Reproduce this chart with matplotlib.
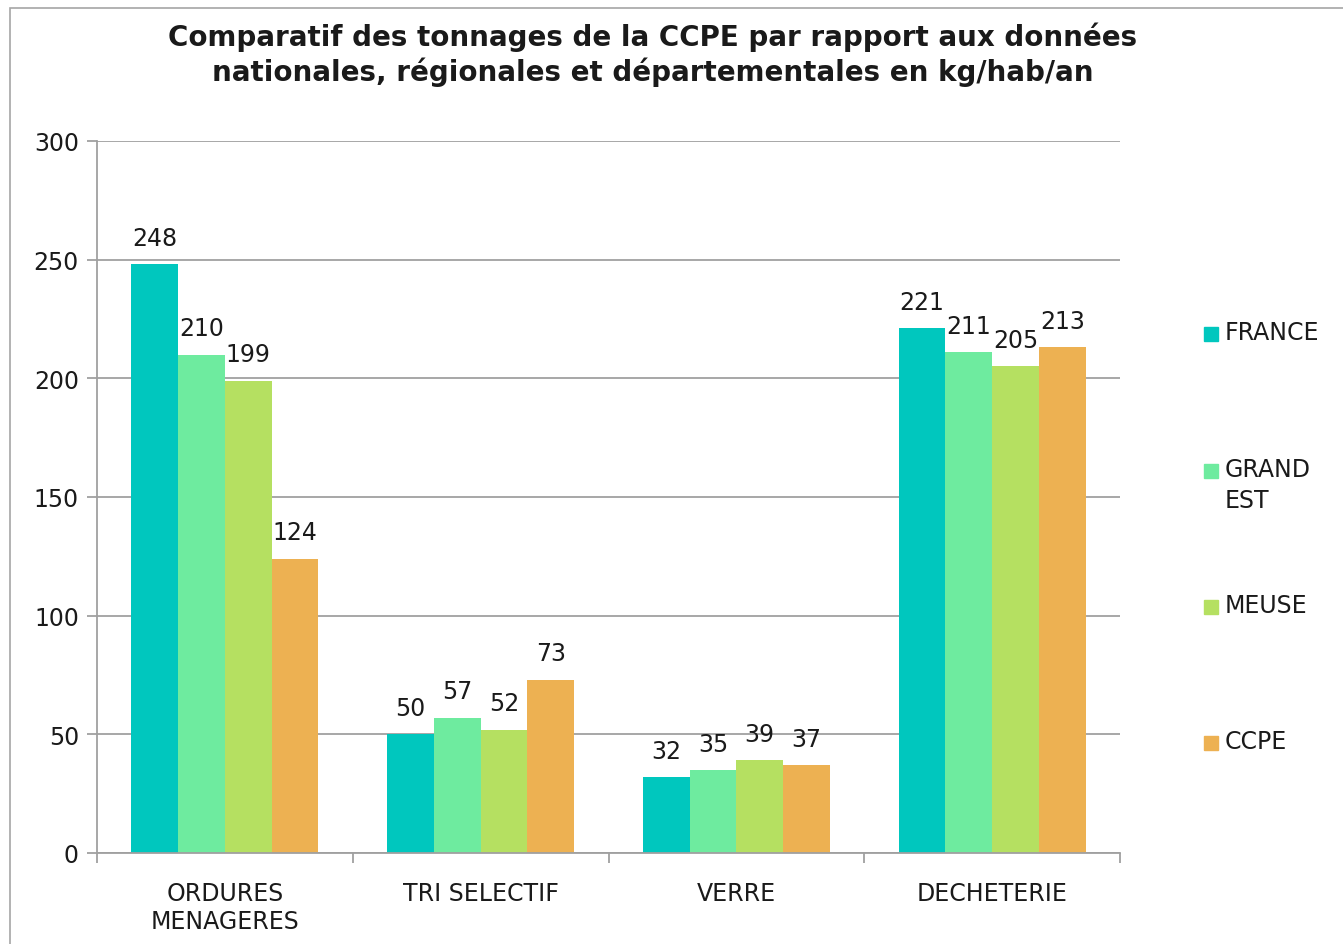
import numpy as np
import matplotlib
matplotlib.use("Agg")
import matplotlib.pyplot as plt
from matplotlib.patches import Rectangle

# data (kg/hab/an)
categories = ["ORDURES\nMENAGERES", "TRI SELECTIF", "VERRE", "DECHETERIE"]
series = ["FRANCE", "GRAND\nEST", "MEUSE", "CCPE"]
france = [248, 50, 32, 221]
grand_est = [210, 57, 35, 211]
meuse = [199, 52, 39, 205]
ccpe = [124, 73, 37, 213]
values = [france, grand_est, meuse, ccpe]
colors = ["#00C7BE", "#6EEB9F", "#B5E061", "#EDB152"]

plt.rcParams['font.family'] = ['DejaVu Sans']
W, H = 1343, 945
fig = plt.figure(figsize=(W / 100, H / 100), dpi=100)
fs = 17

# chart-area border (only left and top edges visible)
fig.patches.append(Rectangle((10 / W, -0.1), 1.2, (H - 9) / H + 0.1,
                             transform=fig.transFigure, fill=False,
                             edgecolor="#A6A6A6", linewidth=1.2))

ax = fig.add_axes([97 / W, (H - 854) / H, (1120 - 97) / W, (854 - 142) / H])

x = np.arange(len(categories))
n = len(series)
bw = 0.731 / n
grid_c = "#A0A0A0"

for i, (name, vals) in enumerate(zip(series, values)):
    pos = x - 0.731 / 2 + bw * (i + 0.5)
    ax.bar(pos, vals, width=bw, color=colors[i], zorder=2)
    for px, v in zip(pos, vals):
        ax.annotate(str(v), (px, v), xytext=(0, 19), textcoords="offset points",
                    ha="center", va="center", fontsize=fs, color="#1a1a1a")

ax.set_xlim(-0.5, len(categories) - 0.5)
ax.set_ylim(0, 300)
ax.set_yticks(range(0, 301, 50))
ax.yaxis.grid(True, color=grid_c, linewidth=1.3, zorder=0)
ax.set_axisbelow(True)

ax.set_xticks(x)
ax.set_xticklabels(categories, fontsize=fs, color="#1a1a1a", linespacing=1.2)
ax.set_xticks(np.arange(-0.5, len(categories)), minor=True)
ax.tick_params(axis="x", which="major", length=0, pad=20)
ax.tick_params(axis="x", which="minor", length=7, color=grid_c, width=1.3)
ax.tick_params(axis="y", length=7, color=grid_c, width=1.3, labelsize=fs,
               labelcolor="#1a1a1a", pad=6)

for s in ["top", "right"]:
    ax.spines[s].set_visible(False)
for s in ["left", "bottom"]:
    ax.spines[s].set_color(grid_c)
    ax.spines[s].set_linewidth(1.3)

fig.text(653 / W, 1 - 55 / H,
         "Comparatif des tonnages de la CCPE par rapport aux données\n"
         "nationales, régionales et départementales en kg/hab/an",
         ha="center", va="center", fontsize=20, fontweight="bold",
         color="#1a1a1a", linespacing=1.25)

# legend drawn on the right
leg_y = [335, 472, 608, 744]
for name, c, yy in zip(series, colors, leg_y):
    fig.patches.append(Rectangle((1204 / W, 1 - (yy + 7) / H), 14 / W, 14 / H,
                                 transform=fig.transFigure, color=c))
    fig.text(1225 / W, 1 - (yy - 14) / H, name, ha="left", va="top",
             fontsize=fs, color="#1a1a1a", linespacing=1.35)

fig.savefig("out.png", dpi=100)
